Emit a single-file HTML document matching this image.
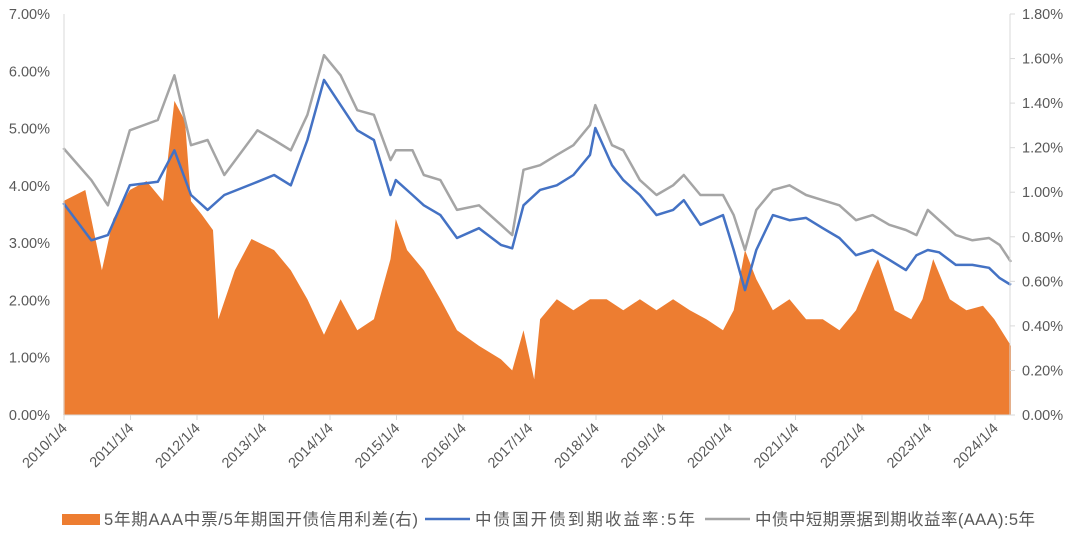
<!DOCTYPE html>
<html><head><meta charset="utf-8"><style>
body{margin:0;background:#fff;font-family:"Liberation Sans","Noto Sans CJK SC",sans-serif}
svg text{font-family:"Liberation Sans","Noto Sans CJK SC",sans-serif;fill:#595959}
</style></head><body>
<svg id="chart" width="1080" height="538" xmlns="http://www.w3.org/2000/svg"></svg>
<script>
const lineDates=[2010.0,2010.42,2010.67,2011.0,2011.42,2011.67,2011.92,2012.17,2012.42,2012.92,2013.17,2013.42,2013.67,2013.92,2014.17,2014.42,2014.67,2014.92,2015.0,2015.25,2015.42,2015.67,2015.92,2016.25,2016.58,2016.75,2016.92,2017.17,2017.42,2017.67,2017.92,2018.0,2018.25,2018.42,2018.67,2018.92,2019.17,2019.33,2019.58,2019.92,2020.08,2020.25,2020.42,2020.67,2020.92,2021.17,2021.42,2021.67,2021.92,2022.17,2022.42,2022.67,2022.83,2023.0,2023.17,2023.42,2023.67,2023.92,2024.08,2024.25];
const cdbYield=[3.70,3.05,3.14,4.01,4.07,4.62,3.84,3.58,3.84,4.07,4.19,4.01,4.80,5.85,5.41,4.97,4.80,3.84,4.10,3.84,3.66,3.49,3.09,3.26,2.97,2.91,3.66,3.93,4.01,4.19,4.54,5.01,4.36,4.10,3.84,3.49,3.58,3.75,3.32,3.49,2.88,2.18,2.88,3.49,3.40,3.44,3.26,3.09,2.79,2.88,2.71,2.53,2.79,2.88,2.84,2.62,2.62,2.57,2.39,2.27];
const mtnYield=[4.66,4.10,3.66,4.97,5.15,5.93,4.71,4.80,4.19,4.97,4.80,4.62,5.24,6.28,5.93,5.32,5.24,4.45,4.62,4.62,4.19,4.10,3.58,3.66,3.32,3.14,4.28,4.36,4.54,4.71,5.06,5.41,4.71,4.62,4.10,3.84,4.01,4.19,3.84,3.84,3.49,2.88,3.58,3.93,4.01,3.84,3.75,3.66,3.40,3.49,3.32,3.23,3.14,3.58,3.40,3.14,3.05,3.09,2.97,2.67];
const spreadDates=[2010.0,2010.33,2010.58,2010.75,2011.0,2011.25,2011.5,2011.67,2011.83,2011.92,2012.08,2012.25,2012.33,2012.58,2012.83,2013.17,2013.42,2013.67,2013.92,2014.17,2014.42,2014.67,2014.92,2015.0,2015.17,2015.42,2015.67,2015.92,2016.25,2016.58,2016.75,2016.92,2017.08,2017.17,2017.42,2017.67,2017.92,2018.17,2018.42,2018.67,2018.92,2019.17,2019.42,2019.67,2019.92,2020.08,2020.25,2020.42,2020.67,2020.92,2021.17,2021.42,2021.67,2021.92,2022.17,2022.25,2022.5,2022.75,2022.92,2023.08,2023.33,2023.58,2023.83,2024.0,2024.25];
const spread=[0.96,1.01,0.65,0.88,1.01,1.05,0.96,1.41,1.32,0.96,0.90,0.83,0.43,0.65,0.79,0.74,0.65,0.52,0.36,0.52,0.38,0.43,0.70,0.88,0.74,0.65,0.52,0.38,0.31,0.25,0.20,0.38,0.16,0.43,0.52,0.47,0.52,0.52,0.47,0.52,0.47,0.52,0.47,0.43,0.38,0.47,0.74,0.61,0.47,0.52,0.43,0.43,0.38,0.47,0.65,0.70,0.47,0.43,0.52,0.70,0.52,0.47,0.49,0.43,0.31];
const leftTicks=["0.00%","1.00%","2.00%","3.00%","4.00%","5.00%","6.00%","7.00%"];
const rightTicks=["0.00%","0.20%","0.40%","0.60%","0.80%","1.00%","1.20%","1.40%","1.60%","1.80%"];
const xTicks=["2010/1/4","2011/1/4","2012/1/4","2013/1/4","2014/1/4","2015/1/4","2016/1/4","2017/1/4","2018/1/4","2019/1/4","2020/1/4","2021/1/4","2022/1/4","2023/1/4","2024/1/4"];

const X0=64,X1=1010,Y0=415,Y1=14;
const xs=t=>X0+(t-2010.01)*66.5;
const yl=v=>Y0-(v/7)*(Y0-Y1);
const yr=v=>Y0-(v/1.8)*(Y0-Y1);
const svg=document.getElementById('chart');
const NS="http://www.w3.org/2000/svg";
function mk(tag,attrs,parent){const e=document.createElementNS(NS,tag);for(const k in attrs)e.setAttribute(k,attrs[k]);(parent||svg).appendChild(e);return e;}

let d=`M${xs(spreadDates[0])},${Y0}`;
spreadDates.forEach((t,i)=>{d+=` L${xs(t).toFixed(1)},${yr(spread[i]).toFixed(1)}`});
d+=` L${xs(spreadDates[spreadDates.length-1])},${Y0} Z`;
const area=mk('path',{d:d,fill:'#ED7D31'});



function line(vals,color,name){
  const p=mk('polyline',{points:lineDates.map((t,i)=>xs(t).toFixed(1)+','+yl(vals[i]).toFixed(1)).join(' '),fill:'none',stroke:color,'stroke-width':2.5,'stroke-linejoin':'round'});
  
  
}
line(mtnYield,'#A5A5A5','mtn-yield-line');
line(cdbYield,'#4472C4','cdb-yield-line');

mk('line',{x1:X0,y1:Y1,x2:X0,y2:Y0,stroke:'#D9D9D9'});
mk('line',{x1:X1,y1:Y1,x2:X1,y2:Y0,stroke:'#D9D9D9'});
mk('line',{x1:X0,y1:Y0,x2:X1,y2:Y0,stroke:'#D9D9D9'});
leftTicks.forEach((s,i)=>{
  const t=mk('text',{x:50,y:yl(i)+5,'text-anchor':'end','font-size':14.5});t.textContent=s;
  
  
});
rightTicks.forEach((s,i)=>{
  const v=i*0.2;
  mk('line',{x1:X1,y1:yr(v),x2:X1+5,y2:yr(v),stroke:'#D9D9D9'});
  const t=mk('text',{x:1022,y:yr(v)+5,'font-size':14.5});t.textContent=s;
  
  
});
xTicks.forEach((s,i)=>{
  const x=xs(2010.01+i);
  mk('line',{x1:x,y1:Y0,x2:x,y2:Y0+5,stroke:'#D9D9D9'});
  const t=mk('text',{x:x+4,y:Y0+14,'text-anchor':'end','font-size':14.5,transform:`rotate(-45 ${x+4} ${Y0+14})`});t.textContent=s;
  
  
});
const lg=mk('g',{});


mk('rect',{x:62,y:514,width:38,height:11,fill:'#ED7D31'},lg);
let t1=mk('text',{x:104,y:525,'font-size':16.5,textLength:314},lg);t1.textContent='5年期AAA中票/5年期国开债信用利差(右)';


mk('line',{x1:425,y1:519,x2:470,y2:519,stroke:'#4472C4','stroke-width':2.5},lg);
let t2=mk('text',{x:475,y:525,'font-size':16.5,textLength:220},lg);t2.textContent='中债国开债到期收益率:5年';


mk('line',{x1:705,y1:519,x2:750,y2:519,stroke:'#A5A5A5','stroke-width':2.5},lg);
let t3=mk('text',{x:755,y:525,'font-size':16.5,textLength:280},lg);t3.textContent='中债中短期票据到期收益率(AAA):5年';


</script>
</body></html>
